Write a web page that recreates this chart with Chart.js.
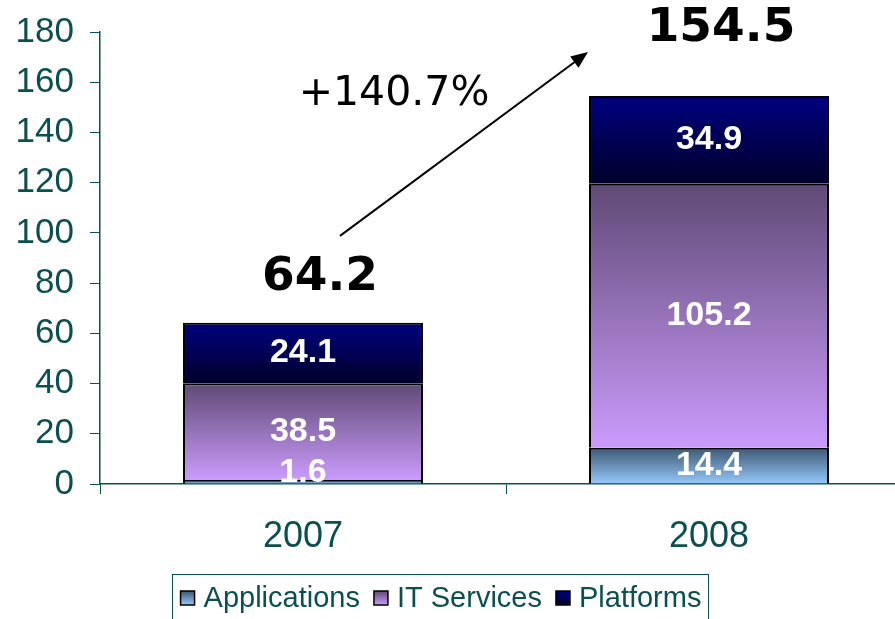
<!DOCTYPE html>
<html><head><meta charset="utf-8">
<script src="https://cdn.jsdelivr.net/npm/chart.js@4.4.0/dist/chart.umd.min.js"></script>
<style>
html,body{margin:0;padding:0;background:#fff;overflow:hidden;width:895px;height:619px}
#wrap{position:relative;width:912px;height:619px}
canvas{display:block}
</style></head><body>
<div id="wrap"><canvas id="c" width="912" height="619"></canvas></div>
<script>
// ---- data ----
const categories = ['2007', '2008'];
const seriesNames = ['Applications', 'IT Services', 'Platforms'];
const applications = [1.6, 14.4];
const itServices = [38.5, 105.2];
const platforms = [24.1, 34.9];
const yTicks = [0, 20, 40, 60, 80, 100, 120, 140, 160, 180];

// ---- styles ----
const TEAL = '#0b4f4f';
const gradTop = ['#3e5873', '#5f4a75', '#000080'];
const gradBottom = ['#95c8fa', '#cb9bfc', '#00002a'];

const seriesValues = [applications, itServices, platforms];
const totals = categories.map((_, i) => seriesValues.reduce((s, arr) => s + arr[i], 0));
const growth = (totals[1] / totals[0] - 1) * 100;

function segGradient(dsIndex) {
  return (ctx) => {
    const chart = ctx.chart;
    const y = chart.scales && chart.scales.y;
    if (!chart.chartArea || !y || ctx.type !== 'data') return gradBottom[dsIndex];
    const i = ctx.dataIndex;
    let base = 0;
    for (let d = 0; d < dsIndex; d++) base += seriesValues[d][i];
    const end = base + seriesValues[dsIndex][i];
    const y0 = y.getPixelForValue(end), y1 = y.getPixelForValue(base);
    if (!isFinite(y0) || !isFinite(y1) || y0 === y1) return gradBottom[dsIndex];
    const g = chart.ctx.createLinearGradient(0, y0, 0, y1);
    g.addColorStop(0, gradTop[dsIndex]);
    g.addColorStop(1, gradBottom[dsIndex]);
    return g;
  };
}

const segLabels = {
  id: 'segLabels',
  afterDatasetsDraw(chart) {
    const ctx = chart.ctx, a = chart.chartArea;
    ctx.save();
    ctx.beginPath();
    ctx.rect(a.left, a.top, a.right - a.left, a.bottom - a.top);
    ctx.clip();
    ctx.fillStyle = '#fff';
    ctx.font = 'bold 34px "Liberation Sans", Arial, sans-serif';
    ctx.textAlign = 'center';
    ctx.textBaseline = 'middle';
    chart.data.datasets.forEach((ds, d) => {
      const meta = chart.getDatasetMeta(d);
      meta.data.forEach((el, i) => {
        const c = (el.y + el.base) / 2;
        const yy = Math.min(c, el.base - 11);
        ctx.fillText(ds.data[i].toFixed(1), el.x, yy);
      });
    });
    ctx.restore();
  }
};

const annotations = {
  id: 'annotations',
  afterDraw(chart) {
    const ctx = chart.ctx, xs = chart.scales.x, ys = chart.scales.y;
    ctx.save();
    // totals
    const dx = [17, 12], dy = [45, 67];
    ctx.fillStyle = '#000';
    ctx.font = 'bold 47px "DejaVu Sans", Verdana, sans-serif';
    ctx.textAlign = 'center';
    ctx.textBaseline = 'middle';
    totals.forEach((t, i) => {
      ctx.fillText(t.toFixed(1), xs.getPixelForValue(i) + dx[i], ys.getPixelForValue(t) - dy[i]);
    });
    // growth label
    ctx.font = '41px "DejaVu Sans", Verdana, sans-serif';
    ctx.fillText('+' + growth.toFixed(1) + '%', xs.getPixelForValue(0) + 91, ys.getPixelForValue(155));
    // arrow
    const x0 = xs.getPixelForValue(0) + 37, y0 = ys.getPixelForValue(98.8);
    const x1 = xs.getPixelForValue(1) - 121, y1 = ys.getPixelForValue(172);
    const ang = Math.atan2(y1 - y0, x1 - x0);
    const hl = 17, hw = 7;
    ctx.strokeStyle = '#000';
    ctx.lineWidth = 2;
    ctx.beginPath();
    ctx.moveTo(x0, y0);
    ctx.lineTo(x1 - Math.cos(ang) * hl * 0.8, y1 - Math.sin(ang) * hl * 0.8);
    ctx.stroke();
    ctx.beginPath();
    ctx.moveTo(x1, y1);
    ctx.lineTo(x1 - Math.cos(ang) * hl - Math.sin(ang) * hw, y1 - Math.sin(ang) * hl + Math.cos(ang) * hw);
    ctx.lineTo(x1 - Math.cos(ang) * hl + Math.sin(ang) * hw, y1 - Math.sin(ang) * hl - Math.cos(ang) * hw);
    ctx.closePath();
    ctx.fill();

    // legend
    const bx = 172, by = 574, bw = 536;
    ctx.strokeStyle = TEAL;
    ctx.lineWidth = 1;
    ctx.strokeRect(bx + 0.5, by + 0.5, bw, 80);
    ctx.font = '29px "Liberation Sans", Arial, sans-serif';
    ctx.textAlign = 'left';
    ctx.textBaseline = 'middle';
    const sq = 14, gap = 9, itemGap = 14;
    const widths = seriesNames.map(n => ctx.measureText(n).width);
    const total = widths.reduce((s, w) => s + w + sq + gap, 0) + itemGap * (seriesNames.length - 1);
    let x = bx + (bw - total) / 2 + 1;
    const cy = 598;
    seriesNames.forEach((n, k) => {
      const g = ctx.createLinearGradient(0, cy - sq / 2, 0, cy + sq / 2);
      g.addColorStop(0, gradTop[k]);
      g.addColorStop(1, gradBottom[k]);
      ctx.fillStyle = g;
      ctx.fillRect(x, cy - sq / 2, sq, sq);
      ctx.strokeStyle = '#000';
      ctx.lineWidth = 1.5;
      ctx.strokeRect(x, cy - sq / 2, sq, sq);
      ctx.fillStyle = TEAL;
      ctx.fillText(n, x + sq + gap, cy + 1);
      x += sq + gap + widths[k] + itemGap;
    });
    ctx.restore();
  }
};

new Chart(document.getElementById('c'), {
  type: 'bar',
  data: {
    labels: categories,
    datasets: seriesNames.map((n, d) => ({
      label: n,
      data: seriesValues[d],
      backgroundColor: segGradient(d),
      borderColor: '#000',
      borderWidth: 2,
      barPercentage: 1,
      categoryPercentage: 0.591
    }))
  },
  options: {
    responsive: false,
    animation: false,
    devicePixelRatio: 1,
    layout: { padding: { top: 32, left: 0, right: 0, bottom: 0 } },
    plugins: { legend: { display: false }, tooltip: { enabled: false } },
    scales: {
      x: {
        stacked: true,
        ticks: { color: TEAL, font: { family: '"Liberation Sans", Arial, sans-serif', size: 36 }, padding: 21 },
        grid: { drawOnChartArea: false, drawTicks: true, tickLength: 10, color: TEAL, offset: true },
        border: { color: TEAL, width: 1.5 },
        afterFit(s) { s.height = 135; s.paddingLeft = 0; s.paddingRight = 0; }
      },
      y: {
        stacked: true,
        min: 0, max: 180,
        afterBuildTicks(s) { s.ticks = yTicks.map(v => ({ value: v })); },
        ticks: { color: TEAL, font: { family: '"Liberation Sans", Arial, sans-serif', size: 35 }, padding: 16 },
        grid: { drawOnChartArea: false, drawTicks: true, tickLength: 10, color: TEAL },
        border: { color: TEAL, width: 1.5 },
        afterFit(s) { s.width = 100; s.paddingTop = 0; s.paddingBottom = 0; }
      }
    }
  },
  plugins: [segLabels, annotations]
});
</script>
</body></html>
